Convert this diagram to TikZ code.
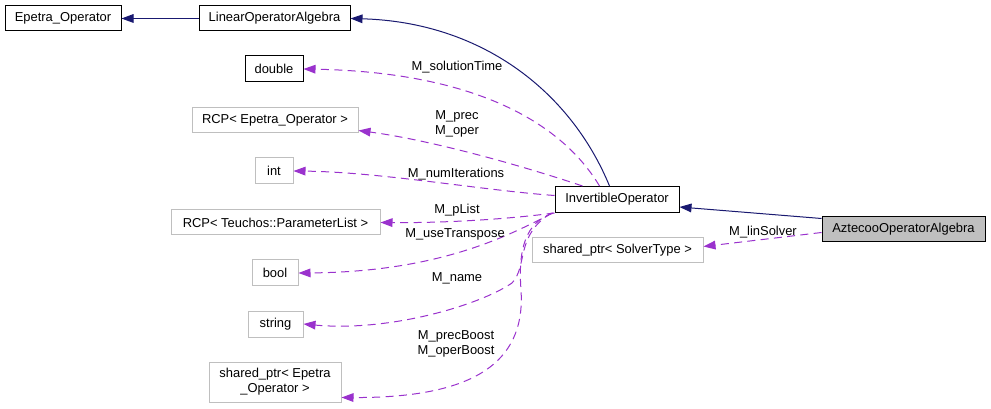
\documentclass[tikz,border=0pt]{standalone}
\usepackage{fontspec}
\setmainfont{Liberation Sans}
\usetikzlibrary{arrows.meta,calc}
\definecolor{edgeblue}{HTML}{191970}
\definecolor{edgepurple}{HTML}{9A32CD}
\definecolor{boxgray}{HTML}{BFBFBF}
\begin{document}
\begin{tikzpicture}[x=0.75pt,y=-0.75pt,
  every node/.style={font=\fontsize{9.7}{11.3}\selectfont, inner sep=0pt},
  docbox/.style={draw=black, line width=0.75pt, minimum height=18.75pt},
  extbox/.style={draw=boxgray, line width=0.75pt, minimum height=18.75pt},
  selfbox/.style={draw=black, fill=boxgray, line width=0.75pt, minimum height=18.75pt},
  inherit/.style={draw=edgeblue, line width=0.75pt, -{Triangle[length=9pt,width=6.5pt,fill=edgeblue]}},
  member/.style={draw=edgepurple, line width=0.75pt, dash pattern=on 6pt off 4pt, -{Triangle[length=9pt,width=6.5pt,fill=edgepurple]}},
  lbl/.style={align=center, text=black}]
\useasboundingbox (0,0) rectangle (991,409);

% nodes
\node[docbox, minimum width=87pt] (epetra) at (63,18.5) {Epetra\_Operator};
\node[docbox, minimum width=113.25pt] (linalg) at (274.5,18.5) {LinearOperatorAlgebra};
\node[docbox, minimum width=43.5pt, minimum height=19.5pt] (dbl) at (274,69) {double};
\node[extbox, minimum width=124.5pt] (rcpE) at (275,120.5) {RCP< Epetra\_Operator >};
\node[extbox, minimum width=28.5pt, minimum height=19.5pt] (int) at (274,171) {int};
\node[extbox, minimum width=156.75pt] (teuchos) at (275.5,222.5) {RCP< Teuchos::ParameterList >};
\node[extbox, minimum width=34.5pt, minimum height=19.5pt] (bool) at (275,273) {bool};
\node[extbox, minimum width=41.25pt, minimum height=19.5pt] (string) at (275.5,324) {string};
\node[extbox, minimum width=99pt, minimum height=30pt, align=center] (shptrE) at (275,382) {shared\_ptr< Epetra\\\_Operator >};
\node[docbox, minimum width=93pt, minimum height=19.5pt] (inv) at (617,199.5) {InvertibleOperator};
\node[extbox, minimum width=128.25pt] (shSolver) at (617.5,250.5) {shared\_ptr< SolverType >};
\node[selfbox, minimum width=122.25pt] (azt) at (903.5,229.5) {AztecooOperatorAlgebra};

% inheritance
\draw[inherit] (linalg.west) -- (epetra.east);
\draw[inherit] ($(inv.north west)+(55,0)$) .. controls (570,90) and (480,22) .. (linalg.east);
\draw[inherit] ($(azt.north west)+(0,2)$) -- ($(inv.south east)+(0,-6)$);

% members
\draw[member] ($(azt.west)+(0,3)$) -- ($(shSolver.north east)+(0,9)$);
\node[lbl] (lLin) at (763,232) {M\_linSolver};

\draw[member] ($(inv.north west)+(45,0)$) .. controls (560,120) and (470,72) .. (dbl.east);
\node[lbl] (lSol) at (457,67) {M\_solutionTime};

\draw[member] ($(inv.north west)+(28,0)$) .. controls (520,165) and (430,140) .. ($(rcpE.south east)+(0,-3)$);
\node[lbl] (lPrec) at (457,124) {M\_prec\\M\_oper};

\draw[member] ($(inv.west)+(0,-4)$) .. controls (480,190) and (380,172) .. (int.east);
\node[lbl] (lNum) at (456,174) {M\_numIterations};

\draw[member] (inv.south west) .. controls (500,220) and (440,223) .. (teuchos.east);
\node[lbl] (lPL) at (457,210) {M\_pList};

\draw[member] ($(inv.south west)+(-2,0)$) .. controls (510,235) and (440,272) .. (bool.east);
\node[lbl] (lUse) at (455,234) {M\_useTranspose};

\draw[member] ($(inv.south west)+(-3,0)$) .. controls (515,235) and (528,266) .. (512,283)
   .. controls (480,305) and (390,332) .. (string.east);
\node[lbl] (lName) at (457,278) {M\_name};

\draw[member] ($(inv.south west)+(-1,0)$) .. controls (525,222) and (518,250) .. (521,290)
   .. controls (526,365) and (470,398) .. ($(shptrE.south east)+(0,-5)$);
\node[lbl] (lBoost) at (456,344) {M\_precBoost\\M\_operBoost};
\end{tikzpicture}
\end{document}
